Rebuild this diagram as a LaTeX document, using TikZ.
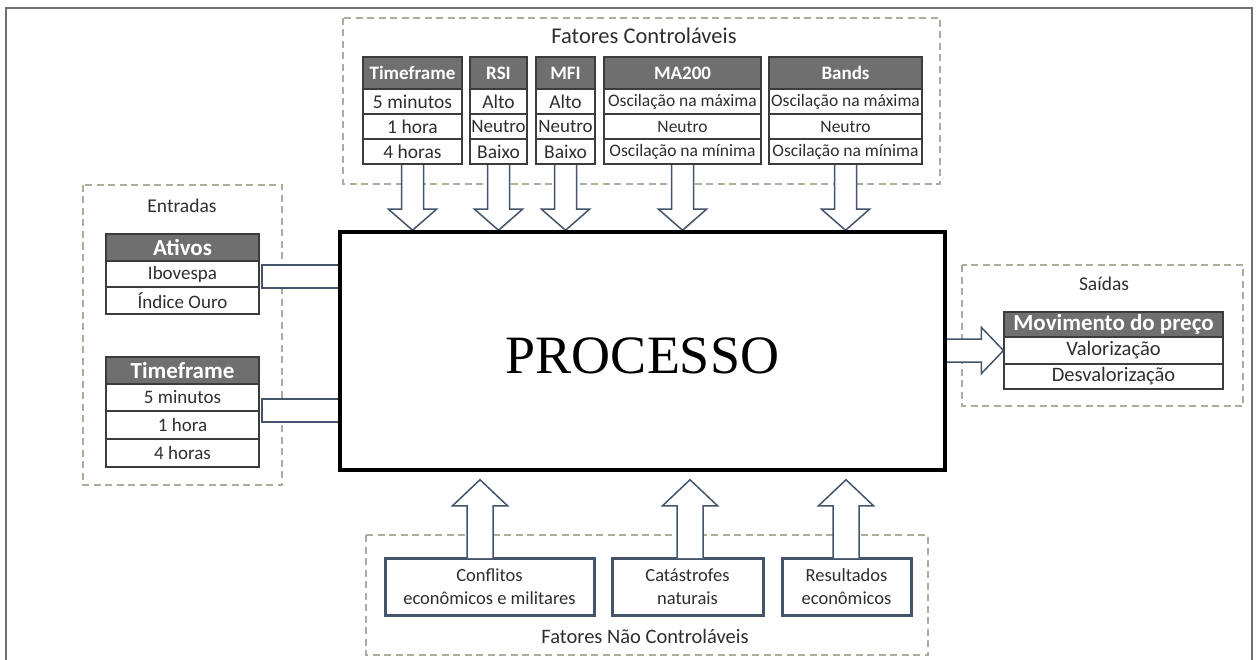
\documentclass[tikz,border=0pt]{standalone}
\usepackage{fontspec}
\setmainfont{Carlito}
\newfontfamily\procfont{Liberation Serif}
\usetikzlibrary{calc}
\definecolor{hdrgray}{HTML}{6F6F6F}
\definecolor{cellline}{HTML}{3C3C3C}
\definecolor{slate}{HTML}{44546A}
\definecolor{dashgreen}{HTML}{A7AF9D}
\definecolor{txt}{HTML}{2E2E2E}
\definecolor{framegray}{HTML}{707070}
\newcommand\fs[1]{\fontsize{#1}{#1}\selectfont}
\newcommand\cellnode[7]{\node[#6, minimum width={#4-#2}, minimum height={#5-#3}] (#1) at ({(#2+#4)/2},{(#3+#5)/2}) {#7};}
\newcommand\blkdown[2]{\draw[blk] ($(#1)+(-11,0)$) -- ($(#2)+(-11,-21)$) -- ($(#2)+(-24,-21)$) -- (#2) -- ($(#2)+(24,-21)$) -- ($(#2)+(11,-21)$) -- ($(#1)+(11,0)$);}
\newcommand\blkup[2]{\draw[blk] ($(#1)+(-13,0)$) -- ($(#2)+(-13,26)$) -- ($(#2)+(-27.5,26)$) -- (#2) -- ($(#2)+(27.5,26)$) -- ($(#2)+(13,26)$) -- ($(#1)+(13,0)$);}
\begin{document}
\begin{tikzpicture}[x=1pt,y=-1pt,
  cell/.style={draw=cellline, line width=1.1pt, fill=white, inner sep=0pt, text=txt},
  hdr/.style={cell, fill=hdrgray, text=white, font=\bfseries\fs{19}},
  tcell/.style={cell, font=\fs{19.5}},
  tcellw/.style={cell, font=\fs{17.5}},
  lhdr/.style={cell, fill=hdrgray, text=white, font=\bfseries\fs{23}},
  lcell/.style={cell, font=\fs{19}},
  shdr/.style={cell, fill=hdrgray, text=white, font=\bfseries\fs{23}},
  scell/.style={cell, font=\fs{20.5}},
  dashbox/.style={draw=dashgreen, line width=1.6pt, dash pattern=on 7pt off 4.5pt},
  blk/.style={draw=slate, line width=1.5pt, fill=white, line join=miter},
  ubox/.style={draw=slate, line width=3pt, fill=white, inner sep=0pt, text=txt, align=center, font=\fontsize{18.5}{23}\selectfont},
  ttl/.style={text=txt, inner sep=0pt},
  procbox/.style={draw=black, line width=3.5pt, fill=white, inner sep=0pt},
]
\useasboundingbox (0,0) rectangle (1257,660);
% outer frame
\draw[framegray, line width=1.5pt] (6,660) -- (6,8) -- (1252,8) -- (1252,660);

% dashed group boxes
\draw[dashbox] (343,18) rectangle (940,184);
\draw[dashbox] (83,185) rectangle (282,485);
\draw[dashbox] (962,265) rectangle (1243,406);
\draw[dashbox] (366,535) rectangle (928,655);

% titles
\node[ttl, font=\fs{22.5}] (tctl) at (644,36) {Fatores Controláveis};
\node[ttl, font=\fs{19.5}] (tent) at (182,206) {Entradas};
\node[ttl, font=\fs{19.5}] (tsai) at (1104,284) {Saídas};
\node[ttl, font=\fs{20.5}] (tnc) at (645,636) {Fatores Não Controláveis};

% process box (for anchors)
\node[procbox, minimum width=605, minimum height=238] (proc) at (642.5,351) {};

% top block arrows (tables cover their tops)
\coordinate (tfb) at (412.5,164);
\coordinate (rsib) at (498.5,164);
\coordinate (mfib) at (565.5,164);
\coordinate (mab) at (682.5,164);
\coordinate (bab) at (845.5,164);
\blkdown{tfb}{tfb |- proc.north}
\blkdown{rsib}{rsib |- proc.north}
\blkdown{mfib}{mfib |- proc.north}
\blkdown{mab}{mab |- proc.north}
\blkdown{bab}{bab |- proc.north}

% top tables
\cellnode{tfh}{363}{57}{462}{89}{hdr}{Timeframe}
\cellnode{tf1}{363}{89}{462}{114}{tcell}{5 minutos}
\cellnode{tf2}{363}{114}{462}{139}{tcell}{1 hora}
\cellnode{tf3}{363}{139}{462}{164}{tcell}{4 horas}
\cellnode{rsh}{470}{57}{527}{89}{hdr}{RSI}
\cellnode{rs1}{470}{89}{527}{114}{tcell}{Alto}
\cellnode{rs2}{470}{114}{527}{139}{cell, font=\fs{19}}{Neutro}
\cellnode{rs3}{470}{139}{527}{164}{tcell}{Baixo}
\cellnode{mfh}{536}{57}{595}{89}{hdr}{MFI}
\cellnode{mf1}{536}{89}{595}{114}{tcell}{Alto}
\cellnode{mf2}{536}{114}{595}{139}{cell, font=\fs{19}}{Neutro}
\cellnode{mf3}{536}{139}{595}{164}{tcell}{Baixo}
\cellnode{mah}{604}{57}{761}{89}{hdr}{MA200}
\cellnode{ma1}{604}{89}{761}{114}{tcellw}{Oscilação na máxima}
\cellnode{ma2}{604}{114}{761}{139}{tcellw}{Neutro}
\cellnode{ma3}{604}{139}{761}{164}{tcellw}{Oscilação na mínima}
\cellnode{bah}{769}{57}{922}{89}{hdr}{Bands}
\cellnode{ba1}{769}{89}{922}{114}{tcellw}{Oscilação na máxima}
\cellnode{ba2}{769}{114}{922}{139}{tcellw}{Neutro}
\cellnode{ba3}{769}{139}{922}{164}{tcellw}{Oscilação na mínima}

% left tables
\cellnode{ath}{106}{234}{259}{261}{lhdr}{Ativos}
\cellnode{at1}{106}{261}{259}{287}{lcell}{Ibovespa}
\cellnode{at2}{106}{287}{259}{314}{lcell}{Índice Ouro}
\cellnode{lth}{106}{357}{259}{384}{lhdr}{Timeframe}
\cellnode{lt1}{106}{384}{259}{411}{lcell}{5 minutos}
\cellnode{lt2}{106}{411}{259}{439}{lcell}{1 hora}
\cellnode{lt3}{106}{439}{259}{467}{lcell}{4 horas}

% output table
\cellnode{mvh}{1004}{312}{1223}{337}{shdr}{Movimento do preço}
\cellnode{mv1}{1004}{337}{1223}{364}{scell}{Valorização}
\cellnode{mv2}{1004}{364}{1223}{389}{scell}{Desvalorização}

% left connectors
\draw[blk] (proc.west |- 0,265) -- (262,265) -- (262,288) -- (proc.west |- 0,288);
\draw[blk] (proc.west |- 0,399) -- (262,399) -- (262,422) -- (proc.west |- 0,422);

% right block arrow
\draw[blk] ($(proc.east |- mv1.west)+(0,-11.5)$) -- ($(mv1.west)+(-22,-11.5)$) -- ($(mv1.west)+(-22,-23)$) -- (mv1.west) -- ($(mv1.west)+(-22,23)$) -- ($(mv1.west)+(-22,11.5)$) -- ($(proc.east |- mv1.west)+(0,11.5)$);

% process box redrawn on top
\node[procbox, minimum width=605, minimum height=238] (procf) at (642.5,351) {};
\node[inner sep=0pt, font=\procfont\fontsize{54}{54}\selectfont] (proclbl) at (642.5,356) {PROCESSO};

% bottom boxes
\cellnode{c1}{385}{558}{594}{615}{ubox}{Conflitos\\econômicos e militares}
\cellnode{c2}{612}{558}{763}{615}{ubox}{Catástrofes\\naturais}
\cellnode{c3}{782}{558}{911}{615}{ubox}{Resultados\\econômicos}

% bottom up arrows
\coordinate (u1s) at ($(c1.north)+(-9.5,1.5)$);
\coordinate (u2s) at ($(c2.north)+(2.5,1.5)$);
\coordinate (u3s) at ($(c3.north)+(-0.5,1.5)$);
\coordinate (u1t) at ($(u1s |- proc.south)+(0,8)$);
\coordinate (u2t) at ($(u2s |- proc.south)+(0,8)$);
\coordinate (u3t) at ($(u3s |- proc.south)+(0,8)$);
\blkup{u1s}{u1t}
\blkup{u2s}{u2t}
\blkup{u3s}{u3t}
\end{tikzpicture}
\end{document}
